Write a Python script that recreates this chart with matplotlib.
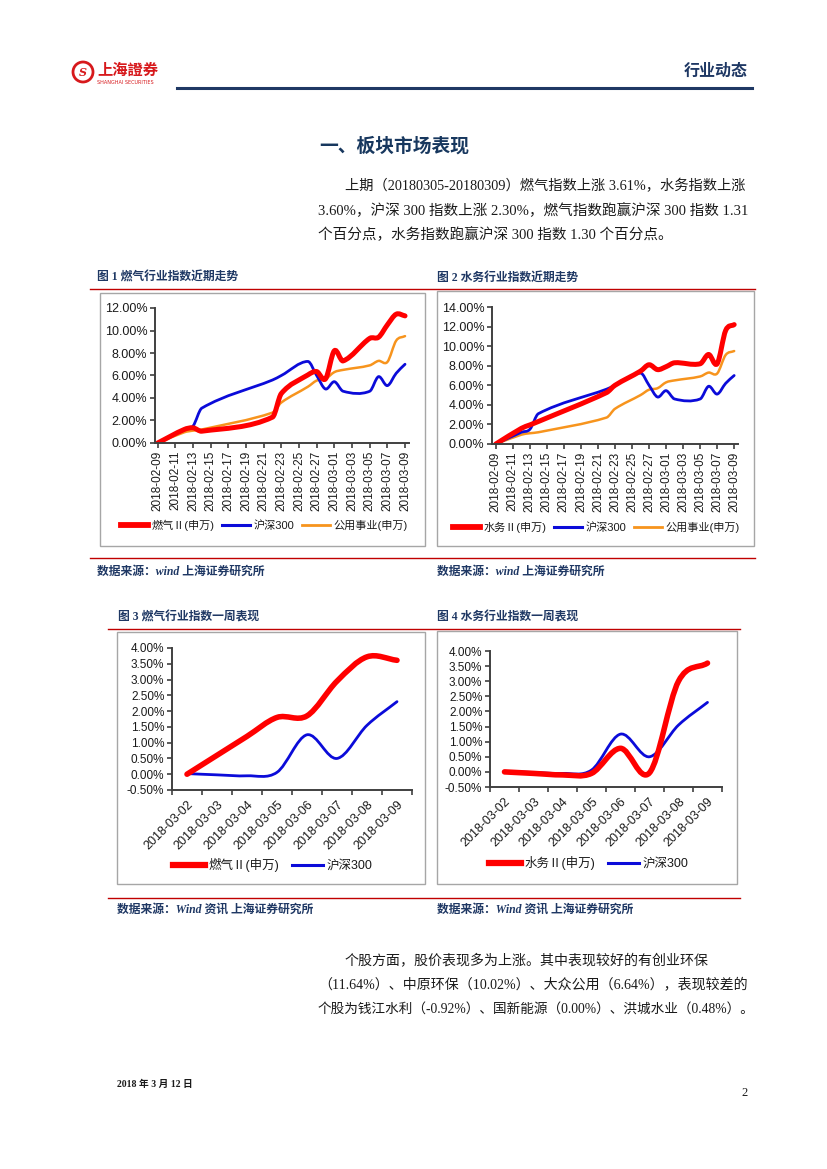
import numpy as np
import matplotlib
matplotlib.use("Agg")
import matplotlib.pyplot as plt
from matplotlib.path import Path
from matplotlib.patches import PathPatch, Rectangle, Ellipse
from matplotlib.lines import Line2D

# ---- data ----
month_dates = ["2018-02-09", "2018-02-12", "2018-02-13", "2018-02-14", "2018-02-22",
               "2018-02-23", "2018-02-26", "2018-02-27", "2018-02-28", "2018-03-01",
               "2018-03-02", "2018-03-05", "2018-03-06", "2018-03-07", "2018-03-08",
               "2018-03-09"]
gas_month = [0, 1.2, 1.35, 1.05, 2.3, 4.4, 6.05, 6.35, 5.7, 8.2, 7.3, 9.3, 9.4, 10.5, 11.45, 11.3]
water_month = [0, 1.6, 1.95, 2.3, 5.25, 6.0, 7.45, 8.1, 7.6, 7.9, 8.3, 8.2, 9.15, 8.2, 11.6, 12.2]
hs300_month = [0, 1.2, 1.5, 3.1, 5.6, 6.0, 7.25, 6.0, 4.8, 5.45, 4.6, 4.6, 5.9, 5.1, 6.2, 7.0]
util_month = [0, 0.95, 1.1, 1.2, 2.7, 3.6, 5.0, 5.55, 5.7, 6.3, 6.5, 6.9, 7.3, 7.2, 9.1, 9.5]

week_dates = ["2018-03-02", "2018-03-03", "2018-03-04", "2018-03-05",
              "2018-03-06", "2018-03-07", "2018-03-08", "2018-03-09"]
gas_week = [0, 0.6, 1.2, 1.8, 1.85, 2.95, 3.72, 3.61]
water_week = [0, -0.05, -0.1, -0.05, 0.78, -0.03, 3.0, 3.6]
hs300_week = [0.02, -0.02, -0.05, 0.06, 1.25, 0.5, 1.55, 2.3]

W, H = 827, 1169
RED = "#ff0000"
BLUE = "#0b0bd9"
ORANGE = "#f7941d"
NAVY = "#1f3864"
DARK_RED = "#c00000"
TXT = "#1a1a1a"
CJK = ["Noto Sans CJK SC"]
SERIF = ["Liberation Serif", "Noto Sans CJK SC"]
SANS = ["Liberation Sans", "Noto Sans CJK SC"]
plt.rcParams["font.family"] = SANS

fig = plt.figure(figsize=(W / 100, H / 100), dpi=100)


def fx(x):
    return x / W


def fy(y):
    return 1 - y / H


def rect(x0, y0, x1, y1):
    return [x0 / W, 1 - y1 / H, (x1 - x0) / W, (y1 - y0) / H]


def hline(x0, x1, y, color, lw):
    fig.add_artist(Line2D([fx(x0), fx(x1)], [fy(y), fy(y)], color=color, lw=lw,
                          transform=fig.transFigure))


def box(x0, y0, x1, y1):
    fig.add_artist(Rectangle((fx(x0), fy(y1)), (x1 - x0) / W, (y1 - y0) / H,
                             fill=False, edgecolor="#a6a6a6", lw=1,
                             transform=fig.transFigure))


def text(x, y, s, **kw):
    fig.text(fx(x), fy(y), s, va="center", **kw)


def smooth(ax, x, y, color, lw):
    # excel style smoothed line: cubic bezier through every point
    x = np.asarray(x, float)
    y = np.asarray(y, float)
    n = len(x)
    m = np.zeros(n)
    for i in range(n):
        lo, hi = max(i - 1, 0), min(i + 1, n - 1)
        m[i] = (y[hi] - y[lo]) / (x[hi] - x[lo])
    verts = [(x[0], y[0])]
    codes = [Path.MOVETO]
    for i in range(n - 1):
        h = x[i + 1] - x[i]
        verts += [(x[i] + h / 3, y[i] + m[i] * h / 3),
                  (x[i + 1] - h / 3, y[i + 1] - m[i + 1] * h / 3),
                  (x[i + 1], y[i + 1])]
        codes += [Path.CURVE4] * 3
    ax.add_patch(PathPatch(Path(verts, codes), fill=False, edgecolor=color, lw=lw,
                           capstyle="round", joinstyle="round"))


def style_axes(ax, ysize):
    for s in ["top", "right"]:
        ax.spines[s].set_visible(False)
    for s in ["left", "bottom"]:
        ax.spines[s].set_color("#404040")
        ax.spines[s].set_linewidth(1.4)
    ax.tick_params(axis="y", direction="out", length=3.5, width=1.2, color="#404040",
                   labelsize=ysize, labelcolor=TXT, pad=2)
    ax.set_facecolor("white")


def legend(ax, handles, labels, cx, cy, size, colsp):
    ax.legend(handles, labels, loc="center", bbox_to_anchor=(fx(cx), fy(cy)),
              bbox_transform=fig.transFigure, ncol=len(labels), frameon=False,
              prop={"family": SANS, "size": size}, handlelength=2.5, handletextpad=0.3,
              columnspacing=colsp, borderaxespad=0, labelcolor=TXT)


# ---- header ----
fig.add_artist(Ellipse((fx(83), fy(72)), 20 / W, 20 / H, fill=False, edgecolor="#d7191c",
                       lw=2, transform=fig.transFigure))
text(83, 72, "S", color="#d7191c", fontsize=8, fontweight="bold", ha="center",
     family=["DejaVu Serif"], style="italic")
text(97, 70, "上海證券", color="#d7191c", fontsize=11, fontweight="bold", family=CJK)
text(97, 82, "SHANGHAI SECURITIES", color="#d7191c", fontsize=3.5, family=["DejaVu Sans"])
hline(177, 752, 87.5, NAVY, 2.2)
text(748, 71, "行业动态", color=NAVY, fontsize=11.5, fontweight="bold", ha="right", family=CJK)

text(394, 146, "一、板块市场表现", color="#17375e", fontsize=13.5, fontweight="bold",
     ha="center", family=CJK)
para1 = ["上期（20180305-20180309）燃气指数上涨 3.61%，水务指数上涨",
         "3.60%，沪深 300 指数上涨 2.30%，燃气指数跑赢沪深 300 指数 1.31",
         "个百分点，水务指数跑赢沪深 300 指数 1.30 个百分点。"]
for i, (line, x, fs) in enumerate(zip(para1, [345, 318, 318], [10.25, 10.5, 10.5])):
    text(x, 186 + 24.5 * i, line, color=TXT, fontsize=fs, family=SERIF)

# ---- captions and rules ----
cap_kw = dict(color=NAVY, fontsize=8.5, fontweight="bold", family=SERIF)
text(97, 278, "图 1 燃气行业指数近期走势", **cap_kw)
text(437, 278, "图 2 水务行业指数近期走势", **cap_kw)
hline(90, 755, 289, DARK_RED, 1)
box(100, 293, 425, 546)
box(437, 291, 754, 546)
hline(90, 755, 558, DARK_RED, 1)
src_kw = dict(color=NAVY, fontsize=8.5, fontweight="bold", style="italic", family=SERIF)
text(97, 572, "数据来源：wind 上海证券研究所", **src_kw)
text(437, 572, "数据来源：wind 上海证券研究所", **src_kw)

text(118, 618, "图 3 燃气行业指数一周表现", **cap_kw)
text(437, 618, "图 4 水务行业指数一周表现", **cap_kw)
hline(108, 740, 629, DARK_RED, 1)
box(117, 632, 425, 884)
box(437, 631, 737, 884)
hline(108, 740, 898, DARK_RED, 1)
text(117, 910, "数据来源：Wind 资讯 上海证券研究所", **src_kw)
text(437, 910, "数据来源：Wind 资讯 上海证券研究所", **src_kw)

# ---- monthly charts ----
start = np.datetime64("2018-02-09")
mx = (np.array(month_dates, dtype="datetime64[D]") - start).astype(int)
tick_days = np.arange(start, np.datetime64("2018-03-10"), 2)
tick_pos = (tick_days - start).astype(int)
tick_lab = [str(d) for d in tick_days]

month_charts = [
    (rect(155, 308, 409, 443), gas_month, "燃气Ⅱ(申万)", 12, (-0.3, 28.45), 264, 525),
    (rect(492, 307, 738, 444), water_month, "水务Ⅱ(申万)", 14, (-0.45, 28.45), 596, 527),
]
for r, main, name, top, xl, lx, ly in month_charts:
    ax = fig.add_axes(r)
    style_axes(ax, 9)
    smooth(ax, mx, util_month, ORANGE, 1.8)
    smooth(ax, mx, hs300_month, BLUE, 2.0)
    smooth(ax, mx, main, RED, 3.6)
    ax.set_xlim(*xl)
    ax.set_ylim(0, top)
    ax.set_yticks(np.arange(0, top + 0.1, 2))
    ax.set_yticklabels([f"{v:.2f}%" for v in np.arange(0, top + 0.1, 2)])
    ax.set_xticks(tick_pos)
    ax.set_xticklabels(tick_lab, rotation=90, fontsize=8.5, color=TXT)
    ax.tick_params(axis="x", direction="out", length=3.5, width=1.2, color="#404040", pad=2)
    handles = [Line2D([], [], color=RED, lw=4.2), Line2D([], [], color=BLUE, lw=2.2),
               Line2D([], [], color=ORANGE, lw=2.0)]
    legend(ax, handles, [name, "沪深300", "公用事业(申万)"], lx, ly, 8, 0.7)

# ---- weekly charts ----
wx = np.arange(len(week_dates))
week_charts = [
    (rect(172, 648, 412, 790), gas_week, "燃气Ⅱ(申万)", 273, 865),
    (rect(490, 651, 722, 787), water_week, "水务Ⅱ(申万)", 589, 863),
]
for r, main, name, lx, ly in week_charts:
    ax = fig.add_axes(r)
    style_axes(ax, 8.5)
    smooth(ax, wx, hs300_week, BLUE, 2.0)
    smooth(ax, wx, main, RED, 4.0)
    ax.set_xlim(-0.5, len(wx) - 0.5)
    ax.set_ylim(-0.5, 4.0)
    yt = np.arange(-0.5, 4.01, 0.5)
    ax.set_yticks(yt)
    ax.set_yticklabels([f"{v:.2f}%" for v in yt])
    ax.set_xticks(wx)
    ax.set_xticklabels(week_dates, rotation=45, ha="right", va="top",
                       rotation_mode="anchor", fontsize=9, color=TXT)
    ax.tick_params(axis="x", which="major", length=0, pad=6)
    ax.set_xticks(np.arange(-0.5, len(wx)), minor=True)
    ax.tick_params(axis="x", which="minor", direction="out", length=3.5, width=1.2,
                   color="#404040")
    handles = [Line2D([], [], color=RED, lw=4.5), Line2D([], [], color=BLUE, lw=2.2)]
    legend(ax, handles, [name, "沪深300"], lx, ly, 9, 1.0)

# ---- closing paragraph and footer ----
para2 = ["个股方面，股价表现多为上涨。其中表现较好的有创业环保",
         "（11.64%）、中原环保（10.02%）、大众公用（6.64%），表现较差的",
         "个股为钱江水利（-0.92%）、国新能源（0.00%）、洪城水业（0.48%）。"]
for i, (line, x, fs) in enumerate(zip(para2, [345, 318, 318], [10.05, 10.05, 9.8])):
    text(x, 961 + 24.5 * i, line, color=TXT, fontsize=fs, family=SERIF)

text(117, 1084, "2018 年 3 月 12 日", color=TXT, fontsize=7, fontweight="bold", family=SERIF)
text(748, 1093, "2", color=TXT, fontsize=9, ha="right", family=SERIF)

fig.savefig("out.png", dpi=100, facecolor="white")
